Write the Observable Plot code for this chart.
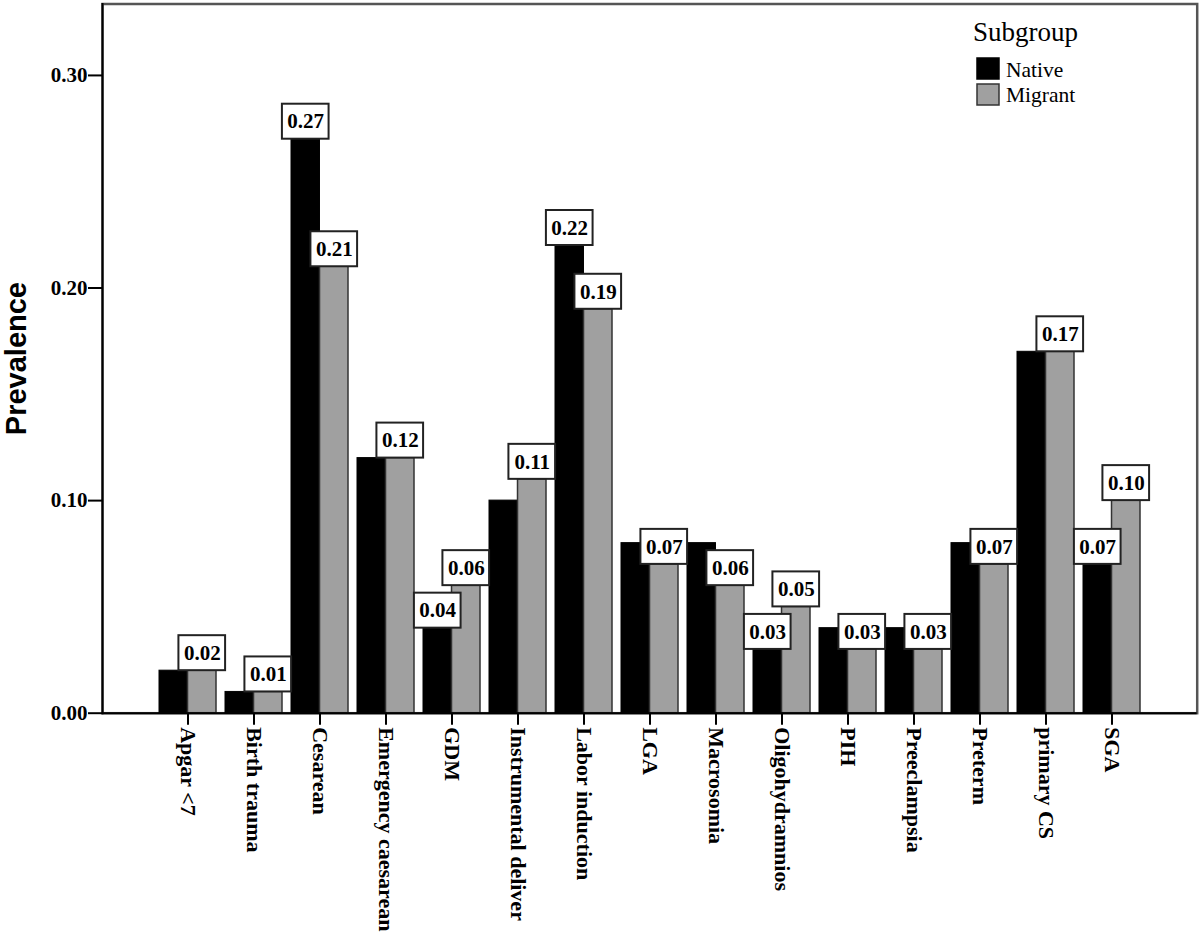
<!DOCTYPE html>
<html>
<head>
<meta charset="utf-8">
<script src="https://cdn.jsdelivr.net/npm/d3@7"></script>
<script src="https://cdn.jsdelivr.net/npm/@observablehq/plot@0.6"></script>
<style>
  html, body { margin: 0; padding: 0; background: white; }
  #chart { width: 1200px; height: 938px; position: relative; }
</style>
</head>
<body>
<div id="chart"></div>
<script>
// ---- Data ----
const categories = ["Apgar <7", "Birth trauma", "Cesarean", "Emergency caesarean", "GDM",
  "Instrumental deliver", "Labor induction", "LGA", "Macrosomia", "Oligohydramnios",
  "PIH", "Preeclampsia", "Preterm", "primary CS", "SGA"];
const native  = [0.02, 0.01, 0.27, 0.12, 0.04, 0.10, 0.22, 0.08, 0.08, 0.03, 0.04, 0.04, 0.08, 0.17, 0.07];
const migrant = [0.02, 0.01, 0.21, 0.12, 0.06, 0.11, 0.19, 0.07, 0.06, 0.05, 0.03, 0.03, 0.07, 0.17, 0.10];
// Native labels the original chart shows (others hidden by label collision)
const nativeLabeled = ["Cesarean", "GDM", "Labor induction", "Oligohydramnios", "SGA"];
const yTicks = [0, 0.10, 0.20, 0.30];
const subgroups = ["Native", "Migrant"];

// ---- Layout ----
const W = 1200, H = 938;
const ml = 102, mr = 3.3, mt = 3.5, mb = 225.3;
const ymax = 0.3336;
const padIn = 0.14, padOut = 0.8245;
const serif = "Liberation Serif, Times New Roman, serif";
const fmt = d3.format(".2f");

const rows = categories.map((c, i) => ({category: c, native: native[i], migrant: migrant[i]}));

const bw = d3.scaleBand(categories, [ml, W - mr]).paddingInner(padIn).paddingOuter(padOut).bandwidth();
const yS = d3.scaleLinear([0, ymax], [H - mb, mt]);
const boxPx = 35, boxW = 46.7;
const boxH = yS.invert(H - mb - boxPx);

const nativeRows = rows.filter(d => nativeLabeled.includes(d.category));

const chart = Plot.plot({
  width: W, height: H,
  marginLeft: ml, marginRight: mr, marginTop: mt, marginBottom: mb,
  x: {domain: categories, paddingInner: padIn, paddingOuter: padOut},
  y: {domain: [0, ymax]},
  style: {background: "white", color: "black"},
  marks: [
    Plot.frame({stroke: "#555", strokeWidth: 2.5}),
    Plot.barY(rows, {x: "category", y: "native", fill: "black", stroke: "black", strokeWidth: 1, insetLeft: 0, insetRight: bw / 2}),
    Plot.barY(rows, {x: "category", y: "migrant", fill: "#a0a0a0", stroke: "#333", strokeWidth: 1.5, insetLeft: bw / 2, insetRight: 0}),
    // migrant value boxes
    Plot.barY(rows, {x: "category", y1: "migrant", y2: d => d.migrant + boxH,
      insetLeft: 3 * bw / 4 - boxW / 2, insetRight: bw / 4 - boxW / 2,
      fill: "white", stroke: "#222", strokeWidth: 2}),
    Plot.text(rows, {x: "category", y: d => d.migrant + boxH / 2, text: d => fmt(d.migrant), dx: bw / 4,
      fontSize: 21, fontWeight: "bold", fontFamily: serif, fill: "black", lineAnchor: "middle"}),
    // native value boxes
    Plot.barY(nativeRows, {x: "category", y1: "native", y2: d => d.native + boxH,
      insetLeft: bw / 4 - boxW / 2, insetRight: 3 * bw / 4 - boxW / 2,
      fill: "white", stroke: "#222", strokeWidth: 2}),
    Plot.text(nativeRows, {x: "category", y: d => d.native + boxH / 2, text: d => fmt(d.native), dx: -bw / 4,
      fontSize: 21, fontWeight: "bold", fontFamily: serif, fill: "black", lineAnchor: "middle"}),
    Plot.ruleY([0], {stroke: "black", strokeWidth: 2}),
    Plot.frame({anchor: "left", stroke: "black", strokeWidth: 2}),
    Plot.axisY({ticks: yTicks, tickFormat: fmt, tickSize: 14, tickPadding: 1, fontSize: 21,
      fontWeight: "bold", fontFamily: serif, label: null, strokeWidth: 2}),
    Plot.axisX({tickRotate: 90, tickSize: 12, tickPadding: 2, fontSize: 22, fontWeight: "bold",
      fontFamily: serif, label: null, strokeWidth: 2}),
    Plot.text(["Prevalence"], {frameAnchor: "left", dx: -86, rotate: -90, fontSize: 29,
      fontWeight: "bold", fontFamily: "Liberation Sans, Arial, sans-serif", fill: "black",
      textAnchor: "middle", lineAnchor: "middle"})
  ]
});

document.getElementById("chart").appendChild(chart);

// ---- Legend ----
const svg = d3.select(chart);
const lg = svg.append("g").attr("font-family", serif).attr("fill", "black").attr("text-anchor", "start");
lg.append("text").attr("x", 973).attr("y", 41).attr("font-size", 27).attr("text-anchor", "start").text("Subgroup");
const swFill = ["black", "#a0a0a0"], swStroke = ["black", "#333"];
subgroups.forEach((s, i) => {
  lg.append("rect").attr("x", 977).attr("y", 58 + i * 26).attr("width", 22).attr("height", 21)
    .attr("fill", swFill[i]).attr("stroke", swStroke[i]).attr("stroke-width", 1.5);
  lg.append("text").attr("x", 1006).attr("y", 76.5 + i * 25.5).attr("font-size", 21.5)
    .attr("text-anchor", "start").text(s);
});
</script>
</body>
</html>
